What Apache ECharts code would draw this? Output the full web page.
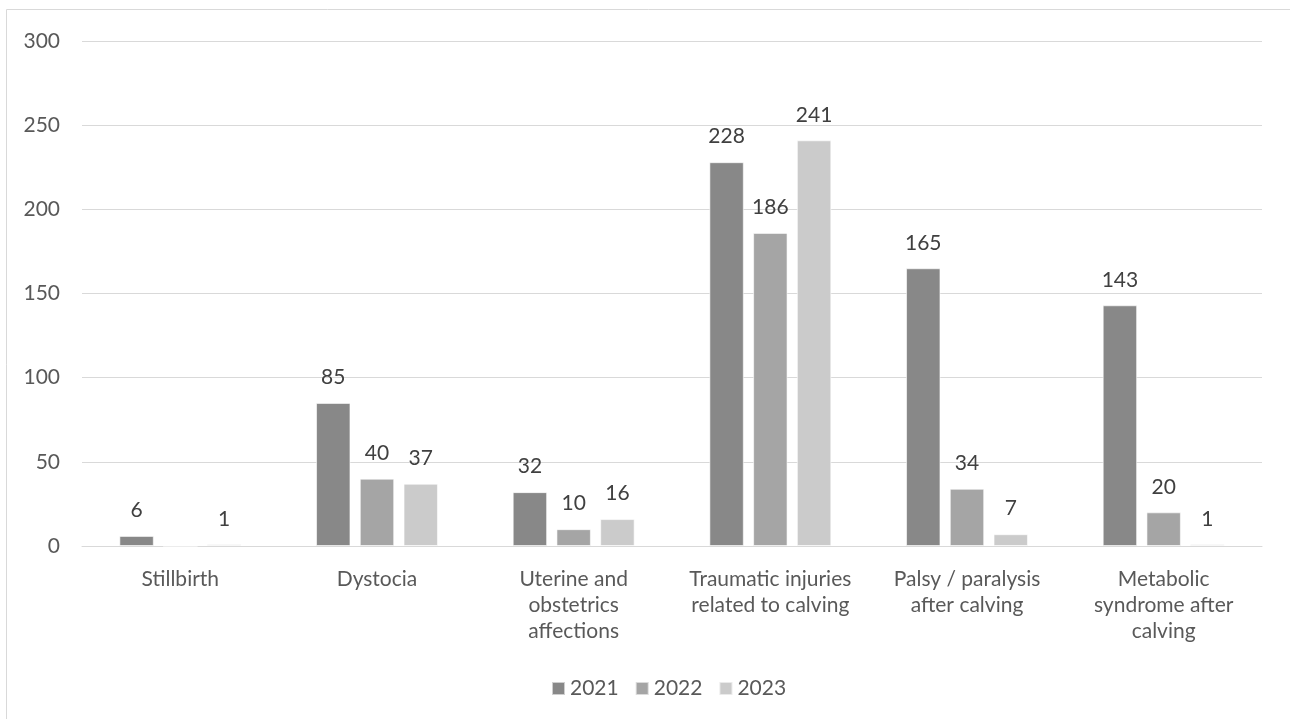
<!DOCTYPE html>
<html>
<head>
<meta charset="utf-8">
<script src="https://cdn.jsdelivr.net/npm/echarts@6/dist/echarts.min.js"></script>
<style>
html,body{margin:0;padding:0;background:#fff;}
#chart{width:1290px;height:719px;}
</style>
</head>
<body>
<div id="chart"></div>
<script>
const categories = [
  "Stillbirth",
  "Dystocia",
  "Uterine and\nobstetrics\naffections",
  "Traumatic injuries\nrelated to calving",
  "Palsy / paralysis\nafter calving",
  "Metabolic\nsyndrome after\ncalving"
];
const seriesNames = ["2021", "2022", "2023"];
const values2021 = [6, 85, 32, 228, 165, 143];
const values2022 = [0, 40, 10, 186, 34, 20];
const values2023 = [1, 37, 16, 241, 7, 1];
const colors = ["#888888", "#a5a5a5", "#cbcbcb"];

const font = "Lato, 'Open Sans', sans-serif";
const chart = echarts.init(document.getElementById('chart'));
const allValues = [values2021, values2022, values2023];
chart.setOption({
  animation: false,
  textStyle: { fontFamily: font },
  graphic: [{
    type: 'rect',
    shape: { x: 6.5, y: 9.5, width: 1300, height: 720 },
    style: { fill: 'none', stroke: '#d9d9d9', lineWidth: 1 },
    silent: true
  }],
  grid: { left: 82, right: 28, top: 41, bottom: 173, containLabel: false },
  legend: {
    bottom: 15,
    left: 546,
    itemWidth: 13,
    itemHeight: 13,
    itemGap: 16,
    icon: 'rect',
    textStyle: { fontSize: 21, color: '#595959', fontFamily: font },
    data: seriesNames
  },
  xAxis: {
    type: 'category',
    data: categories,
    axisLine: { lineStyle: { color: '#d9d9d9', width: 1 } },
    axisTick: { show: false },
    axisLabel: { fontSize: 21, color: '#595959', lineHeight: 26, margin: 20, interval: 0, fontFamily: font }
  },
  yAxis: {
    type: 'value',
    min: 0,
    max: 300,
    interval: 50,
    axisLine: { show: false },
    axisTick: { show: false },
    splitLine: { lineStyle: { color: '#d9d9d9', width: 1 } },
    axisLabel: { fontSize: 21, color: '#595959', margin: 22, fontFamily: font }
  },
  series: seriesNames.map((name, i) => ({
    name: name,
    type: 'bar',
    data: allValues[i],
    barGap: '27%',
    barCategoryGap: '38%',
    itemStyle: { color: colors[i], borderColor: 'rgba(255,255,255,0.6)', borderWidth: 1 },
    label: {
      show: true,
      position: 'top',
      distance: 15,
      fontSize: 21,
      color: '#404040',
      fontFamily: font,
      formatter: p => p.value === 0 ? '' : p.value
    }
  }))
});
</script>
</body>
</html>
